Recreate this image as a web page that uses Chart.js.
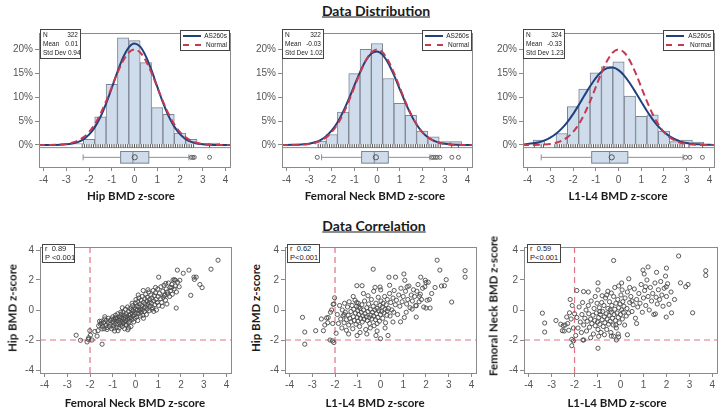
<!DOCTYPE html>
<html>
<head>
<meta charset="utf-8">
<script src="https://cdn.jsdelivr.net/npm/chart.js@4.4.0/dist/chart.umd.min.js"></script>
<style>
body{margin:0;background:#fff;width:726px;height:412px;position:relative;overflow:hidden;font-family:"Liberation Sans",Arial,sans-serif}
canvas{position:absolute}
.t{position:absolute;font-family:Lato,"Open Sans",sans-serif;font-weight:bold;color:#1a1a1a;white-space:nowrap;transform:translate(-50%,-50%)}
.head{font-size:14px;text-decoration:underline}
.ax{font-size:11.5px}
.rot{transform:translate(-50%,-50%) rotate(-90deg)}
.stat{position:absolute;box-sizing:border-box;border:1px solid #444;background:#fff;font-size:6.5px;line-height:8.8px;color:#222;padding:1px 2px;white-space:nowrap}
.stat div{display:flex;justify-content:space-between}
.leg{position:absolute;box-sizing:border-box;border:1px solid #444;background:#fff;font-size:6.5px;line-height:8.5px;color:#222;padding:1px 2px;white-space:nowrap}
.leg div{display:flex;justify-content:space-between;align-items:center}
.leg i{display:inline-block;width:18px;height:0}
.solid{border-top:2px solid #20407e}
.dash{border-top:2px dashed #c43a50}
.corr{position:absolute;box-sizing:border-box;border:1px solid #444;background:#fff;font-size:7.5px;line-height:8.5px;color:#222;padding:0 2px;white-space:nowrap}
</style>
</head>
<body>

<div class="t head" style="left:376px;top:10px">Data Distribution</div>
<div class="t head" style="left:374px;top:225px">Data Correlation</div>

<canvas id="h1"></canvas>
<canvas id="h2"></canvas>
<canvas id="h3"></canvas>
<canvas id="s1"></canvas>
<canvas id="s2"></canvas>
<canvas id="s3"></canvas>

<!-- stat boxes, histograms -->
<div class="stat" style="left:40px;top:29px;width:41px"><div><span>N</span><span>322</span></div><div><span>Mean</span><span>0.01</span></div><div><span>Std Dev</span><span>&nbsp;0.94</span></div></div>
<div class="stat" style="left:282px;top:29px;width:42px"><div><span>N</span><span>322</span></div><div><span>Mean</span><span>-0.03</span></div><div><span>Std Dev</span><span>&nbsp;1.02</span></div></div>
<div class="stat" style="left:523px;top:29px;width:42px"><div><span>N</span><span>324</span></div><div><span>Mean</span><span>-0.33</span></div><div><span>Std Dev</span><span>&nbsp;1.23</span></div></div>

<div class="leg" style="left:180px;top:30px;width:50px"><div><i class="solid"></i><span>AS260s</span></div><div><i class="dash"></i><span>Normal</span></div></div>
<div class="leg" style="left:422px;top:30px;width:50px"><div><i class="solid"></i><span>AS260s</span></div><div><i class="dash"></i><span>Normal</span></div></div>
<div class="leg" style="left:663px;top:30px;width:51px"><div><i class="solid"></i><span>AS260s</span></div><div><i class="dash"></i><span>Normal</span></div></div>

<div class="corr" style="left:42px;top:244px;width:33px">r&nbsp; 0.89<br>P &lt;0.001</div>
<div class="corr" style="left:287px;top:244px;width:33px">r&nbsp; 0.62<br>P&lt;0.001</div>
<div class="corr" style="left:527px;top:244px;width:34px">r&nbsp; 0.59<br>P&lt;0.001</div>

<!-- axis titles -->
<div class="t ax" style="left:131px;top:195px">Hip BMD z-score</div>
<div class="t ax" style="left:375px;top:195px">Femoral Neck BMD z-score</div>
<div class="t ax" style="left:618px;top:195px">L1-L4 BMD z-score</div>
<div class="t ax" style="left:135px;top:402px">Femoral Neck BMD z-score</div>
<div class="t ax" style="left:375px;top:402px">L1-L4 BMD z-score</div>
<div class="t ax" style="left:617px;top:402px">L1-L4 BMD z-score</div>
<div class="t ax rot" style="left:12px;top:308px">Hip BMD z-score</div>
<div class="t ax rot" style="left:255px;top:308px">Hip BMD z-score</div>
<div class="t ax rot" style="left:493px;top:306px">Femoral Neck BMD z-score</div>

<script>
// --- ticks ---
const zTicks = [-4, -3, -2, -1, 0, 1, 2, 3, 4];
const pctTicks = [0, 5, 10, 15, 20];
const scatterYTicks = [-4, -2, 0, 2, 4];

// --- histogram bins (0.5 wide), percent ---
const binMid = [-3.5, -3, -2.5, -2, -1.5, -1, -0.5, 0, 0.5, 1, 1.5, 2, 2.5, 3, 3.5];
const hipPct = [null, null, 0.3, 1.2, 5.9, 12.7, 22.4, 21.8, 17.2, 7.8, 6.4, 2.5, 1.2, 0.3, 0.4];
const fnPct  = [null, null, 0.8, 2.2, 6.9, 14.9, 20.0, 21.2, 13.9, 8.7, 6.2, 2.9, 1.7, 0.7, 0.7];
const l14Pct = [1.0, null, 2.4, 8.0, 11.7, 15.1, 16.4, 17.4, 10.2, 6.0, 6.3, 2.9, 0.7, 1.0, 0.6];

// --- density curves ---
const curveX = [-4.25, -4, -3.75, -3.5, -3.25, -3, -2.75, -2.5, -2.25, -2, -1.75, -1.5, -1.25, -1, -0.75, -0.5, -0.25,
  0, 0.25, 0.5, 0.75, 1, 1.25, 1.5, 1.75, 2, 2.25, 2.5, 2.75, 3, 3.25, 3.5, 3.75, 4, 4.25];
const normalPct = [0, 0.01, 0.02, 0.04, 0.10, 0.22, 0.45, 0.88, 1.59, 2.70, 4.31, 6.48, 9.13, 12.10, 15.06, 17.60, 19.33,
  19.95, 19.33, 17.60, 15.06, 12.10, 9.13, 6.48, 4.31, 2.70, 1.59, 0.88, 0.45, 0.22, 0.10, 0.04, 0.02, 0.01, 0];
const hipFit = [0, 0, 0.01, 0.02, 0.05, 0.13, 0.29, 0.60, 1.18, 2.16, 3.68, 5.84, 8.65, 11.91, 15.30, 18.31, 20.42,
  21.22, 20.54, 18.52, 15.57, 12.18, 8.89, 6.04, 3.83, 2.26, 1.24, 0.64, 0.30, 0.13, 0.06, 0.02, 0.01, 0, 0];
const fnFit = [0, 0.01, 0.03, 0.06, 0.13, 0.28, 0.56, 1.04, 1.83, 3.03, 4.72, 6.93, 9.57, 12.44, 15.24, 17.59, 19.11,
  19.55, 18.83, 17.08, 14.59, 11.74, 8.90, 6.35, 4.27, 2.70, 1.61, 0.90, 0.48, 0.24, 0.11, 0.05, 0.02, 0.01, 0];
const l14Fit = [0.10, 0.19, 0.34, 0.59, 0.97, 1.54, 2.34, 3.42, 4.80, 6.45, 8.33, 10.32, 12.26, 13.98, 15.30, 16.06, 16.18,
  15.64, 14.51, 12.91, 11.03, 9.04, 7.10, 5.36, 3.88, 2.70, 1.80, 1.15, 0.71, 0.42, 0.23, 0.13, 0.07, 0.03, 0.01];

// --- box plots: [low whisker, Q1, median, Q3, high whisker] ---
const hipBox = [-2.26, -0.61, -0.07, 0.63, 2.39];
const hipMean = 0.01;
const hipOut = [2.5, 2.57, 2.63, 3.3];
const fnBox = [-2.45, -0.68, -0.12, 0.50, 2.34];
const fnMean = -0.05;
const fnOut = [-2.64, 2.42, 2.5, 2.58, 2.66, 2.78, 3.31, 3.6];
const l14Box = [-3.4, -1.18, -0.39, 0.41, 2.84];
const l14Mean = -0.3;
const l14Out = [2.95, 3.14, 3.69];

// --- rug (observed values) ---
const hipRug = [-2.3, -2.2, -2.1, -2.0, -1.9, -1.8, -1.7, -1.6, -1.5, -1.4, -1.3, -1.2, -1.1, -1.0, -0.9, -0.8, -0.7, -0.6,
  -0.5, -0.4, -0.3, -0.2, -0.1, 0.0, 0.1, 0.2, 0.3, 0.4, 0.5, 0.6, 0.7, 0.8, 0.9, 1.0, 1.1, 1.2, 1.3, 1.4, 1.5, 1.6, 1.7,
  1.8, 1.9, 2.0, 2.1, 2.2, 2.3, 2.4, 2.5, 2.6, 3.3];
const fnRug = [-2.6, -2.5, -2.4, -2.3, -2.2, -2.1, -2.0, -1.9, -1.8, -1.7, -1.6, -1.5, -1.4, -1.3, -1.2, -1.1, -1.0, -0.9,
  -0.8, -0.7, -0.6, -0.5, -0.4, -0.3, -0.2, -0.1, 0.0, 0.1, 0.2, 0.3, 0.4, 0.5, 0.6, 0.7, 0.8, 0.9, 1.0, 1.1, 1.2, 1.3,
  1.4, 1.5, 1.6, 1.7, 1.8, 1.9, 2.0, 2.1, 2.2, 2.3, 2.4, 2.5, 2.6, 2.7, 2.8, 3.3, 3.6];
const l14Rug = [-3.7, -3.4, -3.3, -2.8, -2.7, -2.6, -2.5, -2.4, -2.3, -2.2, -2.1, -2.0, -1.9, -1.8, -1.7, -1.6, -1.5, -1.4,
  -1.3, -1.2, -1.1, -1.0, -0.9, -0.8, -0.7, -0.6, -0.5, -0.4, -0.3, -0.2, -0.1, 0.0, 0.1, 0.2, 0.3, 0.4, 0.5, 0.6, 0.7,
  0.8, 0.9, 1.0, 1.1, 1.2, 1.3, 1.4, 1.5, 1.6, 1.7, 1.8, 1.9, 2.0, 2.1, 2.2, 2.3, 2.4, 2.5, 2.6, 2.7, 2.8, 2.9, 3.1, 3.7];

// --- scatter 1: Femoral Neck (x) vs Hip (y) ---
const fnHip = [
  [3.63,3.32],[3.32,2.72],[1.84,2.66],[2.35,2.66],[2.10,2.45],[1.02,2.19],[1.71,2.02],[1.76,1.98],[2.57,2.19],[2.67,2.19],
  [2.59,2.04],[2.83,1.70],[2.93,1.49],[2.43,0.98],[1.79,0.13],[1.92,1.55],[1.95,1.98],[1.33,1.77],[1.59,1.49],[1.41,1.06],
  [1.27,0.96],[0.80,-0.09],[0.34,1.30],[-2.61,-1.68],[-2.42,-2.02],[-2.13,-2.13],[-2.08,-1.96],[-1.98,-1.68],[-2.01,-1.38],
  [-2.06,-1.85],[-1.91,-2.0],[-1.69,-1.74],[-1.47,-2.28],[-1.79,-1.43],[-1.65,-1.38],[-1.50,-0.89],[-1.47,-1.26],
  [-1.25,-1.17],[-0.89,-0.53],[-0.77,-1.38],[-0.34,-1.32],
  [-1.55,-0.95],[-1.5,-0.75],[-1.45,-1.1],[-1.4,-0.85],[-1.38,-1.25],[-1.35,-0.6],[-1.3,-1.0],[-1.28,-0.7],[-1.25,-1.3],
  [-1.2,-0.85],[-1.2,-0.55],[-1.15,-1.1],[-1.12,-0.7],[-1.1,-0.95],[-1.05,-0.6],[-1.05,-1.25],[-1.0,-0.8],[-1.0,-0.45],
  [-0.98,-1.05],[-0.95,-0.65],[-0.92,-1.4],[-0.9,-0.9],[-0.88,-0.35],[-0.85,-0.75],[-0.82,-1.15],[-0.8,-0.55],[-0.8,-0.95],
  [-0.78,-0.25],[-0.75,-0.7],[-0.72,-1.2],[-0.7,-0.45],[-0.7,-0.85],[-0.68,-0.6],[-0.65,-1.0],[-0.62,-0.3],[-0.6,-0.75],
  [-0.6,-0.5],[-0.58,-1.1],[-0.55,-0.15],[-0.55,-0.9],[-0.52,-0.6],[-0.5,-0.35],[-0.5,-0.8],[-0.48,-1.25],[-0.45,-0.5],
  [-0.45,0.05],[-0.42,-0.7],[-0.4,-0.25],[-0.4,-1.0],[-0.38,-0.45],[-0.35,-0.6],[-0.35,0.2],[-0.32,-0.85],[-0.3,-0.35],
  [-0.3,-0.1],[-0.28,-0.55],[-0.25,-0.75],[-0.25,0.1],[-0.22,-0.3],[-0.2,-0.5],[-0.2,-1.1],[-0.18,0.0],[-0.15,-0.2],
  [-0.15,-0.65],[-0.12,0.3],[-0.1,-0.4],[-0.1,-0.05],[-0.08,-0.8],[-0.05,0.15],[-0.05,-0.3],[-0.02,-0.55],[0.0,0.05],
  [0.0,0.45],[0.02,-0.2],[0.05,-0.45],[0.05,0.25],[0.08,0.0],[0.1,-0.7],[0.1,0.55],[0.12,-0.25],[0.15,0.2],[0.15,0.8],
  [0.18,-0.05],[0.2,0.4],[0.2,-0.4],[0.22,0.05],[0.25,0.65],[0.25,-0.15],[0.28,0.3],[0.3,0.0],[0.3,0.9],[0.32,-0.35],
  [0.35,0.5],[0.38,0.15],[0.4,0.75],[0.4,-0.1],[0.42,0.4],[0.45,1.05],[0.45,0.2],[0.48,-0.3],[0.5,0.6],[0.5,0.05],
  [0.52,0.85],[0.55,0.35],[0.58,1.2],[0.6,0.5],[0.6,-0.05],[0.62,0.7],[0.65,0.25],[0.68,1.0],[0.7,0.45],[0.72,0.8],
  [0.75,0.15],[0.78,1.3],[0.8,0.6],[0.82,0.95],[0.85,0.35],[0.88,1.15],[0.9,0.7],[0.92,0.0],[0.95,0.5],[0.98,1.4],
  [1.0,0.9],[1.02,0.3],[1.05,1.1],[1.1,0.75],[1.12,1.55],[1.15,0.5],[1.2,1.25],[1.22,0.85],[1.25,1.65],[1.3,1.0],
  [1.32,0.65],[1.35,1.4],[1.4,1.2],[1.45,1.8],[1.5,0.9],[1.52,1.5],[1.55,1.3],[1.6,1.7],[1.62,1.05],[1.65,2.0],[1.7,1.4],
  [1.75,1.6],[1.8,1.2],[1.85,1.85],[-0.95,-1.2],[-0.65,-0.15],[-0.3,-1.2],[0.35,-0.55],[-1.35,-0.45],[-0.88,-0.55],
  [-0.42,-0.95],[0.02,0.7],[0.72,0.05],[1.18,0.25],[-0.15,0.45],[0.55,1.35],[-1.62,-1.05],[-1.58,-0.75],[-0.58,0.15],
  [0.88,1.5],[1.38,0.4],[0.12,1.0]
];

// --- scatter 2: L1-L4 (x) vs Hip (y) ---
const l14Hip = [
  [-3.43,-0.49],[-3.33,-1.47],[-3.33,-2.28],[-2.85,-1.38],[-2.51,-1.38],[-2.32,-0.85],[-2.37,-0.53],[-2.15,0.0],
  [-2.22,-2.0],[-2.11,-2.06],[-2.05,-2.17],[-2.02,0.81],[-2.08,0.38],[-0.32,2.72],[-1.04,1.62],[-0.81,1.62],[-0.24,1.51],
  [-0.02,1.53],[0.01,1.34],[0.0,-1.91],[-0.2,-1.70],[-1.03,-1.70],[0.33,-1.70],[0.37,2.19],[0.66,2.19],[1.03,2.40],
  [1.07,1.98],[1.17,1.55],[1.77,2.19],[1.97,1.98],[2.0,1.83],[2.49,3.32],[2.61,2.66],[2.68,1.60],[2.81,1.62],[2.89,2.02],
  [3.13,0.53],[3.72,2.62],[3.72,2.19],[1.57,-0.47],[0.88,-0.79],[1.13,-0.15],[2.0,0.13],[2.18,0.13],[1.71,0.91],
  [2.15,0.70],[1.57,0.28],[1.39,0.06],
  [-1.9,-0.3],[-1.85,-0.9],[-1.8,0.3],[-1.75,-0.6],[-1.7,-1.2],[-1.68,0.0],[-1.65,-0.4],[-1.6,-0.85],[-1.58,0.45],
  [-1.55,-0.15],[-1.5,-0.65],[-1.5,-1.35],[-1.45,0.2],[-1.42,-0.35],[-1.4,-1.0],[-1.38,0.55],[-1.35,-0.55],[-1.3,-0.1],
  [-1.3,-0.8],[-1.25,0.3],[-1.22,-1.25],[-1.2,-0.45],[-1.18,0.05],[-1.15,-0.7],[-1.12,0.65],[-1.1,-0.2],[-1.08,-0.95],
  [-1.05,0.25],[-1.02,-0.5],[-1.0,-0.05],[-1.0,-0.75],[-0.98,0.45],[-0.95,-0.3],[-0.92,-1.1],[-0.9,0.1],[-0.88,-0.55],
  [-0.85,-0.15],[-0.82,0.35],[-0.8,-0.8],[-0.78,-0.4],[-0.75,0.0],[-0.72,-0.6],[-0.7,0.6],[-0.68,-0.25],[-0.65,-1.3],
  [-0.62,-0.45],[-0.6,0.15],[-0.58,-0.7],[-0.55,-0.1],[-0.52,0.4],[-0.5,-0.5],[-0.48,-0.9],[-0.45,0.05],[-0.42,-0.35],
  [-0.4,0.7],[-0.38,-0.6],[-0.35,-0.15],[-0.32,0.25],[-0.3,-0.4],[-0.28,-1.05],[-0.25,0.0],[-0.22,-0.65],[-0.2,0.45],
  [-0.18,-0.25],[-0.15,0.1],[-0.12,-0.5],[-0.1,0.85],[-0.08,-0.05],[-0.05,-0.75],[-0.02,0.3],[0.0,-0.3],[0.02,0.6],
  [0.05,-0.1],[0.08,0.2],[0.1,-0.55],[0.12,0.45],[0.15,-0.2],[0.18,0.9],[0.2,0.05],[0.22,-0.85],[0.25,0.35],[0.28,-0.35],
  [0.3,0.7],[0.35,0.1],[0.4,1.1],[0.42,-0.4],[0.45,0.5],[0.5,0.0],[0.55,0.8],[0.58,-0.15],[0.6,1.3],[0.65,0.35],
  [0.7,0.65],[0.75,-0.3],[0.8,1.0],[0.85,0.25],[0.9,1.45],[0.95,0.55],[1.0,0.9],[1.05,-0.5],[1.1,1.25],[1.15,0.4],
  [1.2,0.7],[1.25,1.6],[1.3,0.15],[1.35,1.0],[1.4,0.6],[1.45,1.35],[1.5,0.9],[1.55,0.3],[1.6,1.25],[1.65,1.7],[1.7,0.55],
  [1.75,1.05],[1.8,0.7],[1.85,1.45],[1.9,0.2],[1.95,1.55],[2.05,0.65],[2.1,1.85],[2.25,1.1],[2.4,1.5],[-2.3,-0.5],
  [-2.2,-0.15],[-2.1,-0.9],[-2.05,0.4],[-2.45,-1.0],[-2.6,-0.6],[-1.95,-1.55],[-1.4,-1.6],[-0.9,-1.5],[-0.6,-1.6],
  [-0.15,-1.4],[0.2,-1.2],[0.55,-0.8],[-1.2,0.9],[-0.75,1.1],[-0.3,1.25],[0.4,1.65],[-0.55,0.95],[-1.05,0.5],[-0.15,-0.9],
  [-0.45,-1.2],[-1.6,-0.3],[0.3,-0.05],[-0.95,0.2]
];

// --- scatter 3: L1-L4 (x) vs Femoral Neck (y) ---
const l14Fn = [
  [-3.40,-0.21],[-3.30,-0.87],[-3.30,-1.47],[-2.81,-0.70],[-2.53,-1.38],[-2.49,-1.04],[-2.41,-1.0],[-2.34,-0.47],
  [-2.22,-0.19],[-2.12,-1.96],[-2.12,-2.38],[-2.05,-2.06],[-2.19,0.70],[-1.90,1.30],[-1.61,1.23],[-0.98,1.81],[-0.98,1.34],
  [-0.30,3.30],[-0.98,-2.55],[-1.64,-2.0],[-0.18,-2.0],[-0.08,-1.79],[-0.40,-1.74],[-0.40,1.13],[-0.08,1.60],[0.07,1.34],
  [0.98,2.66],[1.20,2.87],[1.03,2.40],[1.57,2.51],[2.0,2.79],[1.96,2.26],[1.99,1.55],[2.53,3.60],[2.61,1.81],[2.84,1.55],
  [2.94,1.70],[3.71,2.62],[3.71,2.30],[3.14,-0.19],[2.22,-0.19],[1.99,-0.47],[2.11,0.38],[1.52,-0.26],[1.09,1.55],
  [0.36,2.08],[0.50,0.60],
  [-1.9,-0.5],[-1.85,-1.2],[-1.8,0.2],[-1.75,-0.8],[-1.7,-1.5],[-1.68,-0.3],[-1.65,0.5],[-1.6,-1.0],[-1.55,-0.55],
  [-1.5,0.0],[-1.48,-1.4],[-1.45,-0.75],[-1.4,0.3],[-1.38,-0.25],[-1.35,-1.15],[-1.3,-0.6],[-1.28,0.6],[-1.25,-0.9],
  [-1.2,-0.35],[-1.18,-1.6],[-1.15,0.1],[-1.12,-0.7],[-1.1,-1.05],[-1.05,-0.2],[-1.02,0.45],[-1.0,-0.8],[-0.98,-1.3],
  [-0.95,-0.5],[-0.92,0.15],[-0.9,-0.95],[-0.88,-0.3],[-0.85,-1.5],[-0.82,0.5],[-0.8,-0.65],[-0.78,-0.1],[-0.75,-1.1],
  [-0.72,0.3],[-0.7,-0.45],[-0.68,-0.85],[-0.65,0.8],[-0.62,-0.25],[-0.6,-1.3],[-0.58,-0.6],[-0.55,0.1],[-0.52,-0.95],
  [-0.5,-0.35],[-0.48,0.55],[-0.45,-0.75],[-0.42,-1.5],[-0.4,-0.15],[-0.38,0.3],[-0.35,-0.55],[-0.32,-1.0],[-0.3,0.9],
  [-0.28,-0.3],[-0.25,0.05],[-0.22,-0.7],[-0.2,0.45],[-0.18,-1.2],[-0.15,-0.2],[-0.12,0.7],[-0.1,-0.5],[-0.08,0.15],
  [-0.05,-0.85],[-0.02,0.4],[0.0,-0.3],[0.02,1.0],[0.05,0.0],[0.08,-0.6],[0.1,0.55],[0.12,-0.15],[0.15,0.25],[0.18,-1.0],
  [0.2,0.8],[0.25,-0.4],[0.28,0.1],[0.3,1.2],[0.35,-0.2],[0.4,0.5],[0.45,0.9],[0.5,-0.1],[0.55,0.35],[0.6,1.4],
  [0.65,-0.55],[0.7,0.7],[0.75,0.2],[0.8,1.1],[0.85,0.45],[0.9,1.7],[0.95,-0.15],[1.0,0.8],[1.05,1.3],[1.1,0.3],[1.15,2.0],
  [1.2,0.9],[1.25,0.0],[1.3,1.5],[1.35,0.6],[1.4,1.1],[1.45,-0.3],[1.5,1.8],[1.55,0.85],[1.6,0.4],[1.65,1.35],[1.7,0.7],
  [1.75,1.9],[1.8,1.0],[1.85,0.25],[1.9,1.45],[2.0,0.9],[2.05,1.75],[2.2,1.2],[2.35,0.7],[-2.3,-0.9],[-2.25,-1.35],
  [-2.15,-0.6],[-2.1,0.3],[-2.05,-1.2],[-2.0,-0.25],[-2.45,-1.4],[-2.6,-0.95],[-1.95,-1.7],[-1.6,-2.0],[-1.3,-1.85],
  [-0.95,-1.75],[-0.7,-1.65],[-0.3,-1.75],[-0.1,-1.6],[0.3,-1.65],[-1.1,0.9],[-0.55,1.25],[-0.25,1.5],[0.05,1.8],
  [-1.4,1.2],[-0.8,0.95],[0.4,1.5],[0.7,-0.9],[-0.6,1.0],[-0.2,-1.0],[-0.45,0.0],[-0.9,-0.1]
];

// --- 2. helpers ---
const Z_MIN = -4.2, Z_MAX = 4.2;
const P_MIN = -4.6, P_MAX = 23.4;   // hist y range, lower part holds the box plot
const SEP_Y = -0.55, RUG_Y = -0.2;
const BOX_TOP = -1.36, BOX_BOT = -3.8, BOX_MID = -2.58;
const REF = -2;
const TICK_FONT = { family: 'Liberation Sans', size: 10 };

function pairs(xs, ys) { return xs.map((x, i) => ({ x: x, y: ys[i] })); }

function axis(min, max, ticks, size, pad, fmt) {
  return {
    type: 'linear', min: min, max: max, offset: false,
    afterBuildTicks: s => { s.ticks = ticks.map(v => ({ value: v })); },
    afterFit: s => { if (s.isHorizontal()) s.height = size; else s.width = size; },
    grid: { drawOnChartArea: false, offset: false, tickLength: 4, color: '#8a8a8a', tickColor: '#8a8a8a' },
    border: { display: false },
    ticks: { font: TICK_FONT, color: '#555', padding: pad, autoSkip: false, maxRotation: 0, callback: fmt || (v => v) }
  };
}

// frame + separator + box plot
const deco = {
  id: 'deco',
  beforeDatasetsDraw(chart, args, o) {
    if (!o.box) return;
    const { ctx, scales: { x, y } } = chart;
    const [lo, q1, med, q3, hi] = o.box;
    const yt = y.getPixelForValue(BOX_TOP), yb = y.getPixelForValue(BOX_BOT), ym = y.getPixelForValue(BOX_MID);
    ctx.save();
    ctx.strokeStyle = '#8a8f99'; ctx.lineWidth = 1;
    ctx.beginPath();
    ctx.moveTo(x.getPixelForValue(lo), ym); ctx.lineTo(x.getPixelForValue(q1), ym);
    ctx.moveTo(x.getPixelForValue(q3), ym); ctx.lineTo(x.getPixelForValue(hi), ym);
    ctx.moveTo(x.getPixelForValue(lo), ym - 3); ctx.lineTo(x.getPixelForValue(lo), ym + 3);
    ctx.moveTo(x.getPixelForValue(hi), ym - 3); ctx.lineTo(x.getPixelForValue(hi), ym + 3);
    ctx.stroke();
    ctx.fillStyle = '#cfdcec';
    const bx = x.getPixelForValue(q1), bw = x.getPixelForValue(q3) - bx;
    ctx.fillRect(bx, yt, bw, yb - yt);
    ctx.strokeStyle = '#7d8590';
    ctx.strokeRect(bx, yt, bw, yb - yt);
    ctx.beginPath();
    ctx.moveTo(x.getPixelForValue(med), yt); ctx.lineTo(x.getPixelForValue(med), yb);
    ctx.stroke();
    ctx.beginPath();
    ctx.arc(x.getPixelForValue(o.mean), ym, 2.6, 0, Math.PI * 2);
    ctx.strokeStyle = '#555'; ctx.stroke();
    // separator between histogram and box plot
    ctx.strokeStyle = '#8a8a8a';
    ctx.beginPath();
    ctx.moveTo(chart.chartArea.left, y.getPixelForValue(SEP_Y));
    ctx.lineTo(chart.chartArea.right, y.getPixelForValue(SEP_Y));
    ctx.stroke();
    ctx.restore();
  },
  afterDraw(chart) {
    const { ctx, chartArea: a } = chart;
    ctx.save();
    ctx.strokeStyle = '#8a8a8a'; ctx.lineWidth = 1;
    ctx.strokeRect(Math.round(a.left) + 0.5, Math.round(a.top) + 0.5, Math.round(a.right - a.left), Math.round(a.bottom - a.top));
    ctx.restore();
  }
};

function place(cv, area, yw, xh, pt, pr) {
  cv.width = yw + (area.R - area.L) + pr;
  cv.height = pt + (area.B - area.T) + xh;
  cv.style.left = (area.L - yw) + 'px';
  cv.style.top = (area.T - pt) + 'px';
}

function histChart(id, area, bars, fit, box, mean, outl, rug) {
  const cv = document.getElementById(id);
  place(cv, area, 39, 24, 4, 6);
  new Chart(cv, {
    type: 'bar',
    data: {
      datasets: [
        { type: 'line', data: pairs(curveX, normalPct), borderColor: '#c43a50', borderWidth: 2, borderDash: [7, 4],
          pointRadius: 0, cubicInterpolationMode: 'monotone', order: 0 },
        { type: 'line', data: pairs(curveX, fit), borderColor: '#20407e', borderWidth: 2,
          pointRadius: 0, cubicInterpolationMode: 'monotone', order: 1 },
        { type: 'scatter', data: outl.map(v => ({ x: v, y: BOX_MID })), pointRadius: 2, pointBorderColor: '#666',
          pointBackgroundColor: 'rgba(0,0,0,0)', pointBorderWidth: 1, order: 2 },
        { type: 'scatter', data: rug.map(v => ({ x: v, y: RUG_Y })), pointStyle: 'line', pointRotation: 90,
          pointRadius: 1.8, pointBorderColor: '#555', pointBorderWidth: 1, order: 3 },
        { type: 'bar', data: pairs(binMid, bars), backgroundColor: '#cfdcec', borderColor: '#7d8590', borderWidth: 1,
          barPercentage: 1, categoryPercentage: 1, order: 5 }
      ]
    },
    options: {
      responsive: false, animation: false, events: [],
      layout: { padding: { top: 4, right: 6, left: 0, bottom: 0 } },
      plugins: { legend: { display: false }, tooltip: { enabled: false }, deco: { box: box, mean: mean } },
      scales: {
        x: axis(Z_MIN, Z_MAX, zTicks, 24, 3),
        y: axis(P_MIN, P_MAX, pctTicks, 39, 2, v => v + '%')
      }
    },
    plugins: [deco]
  });
}

function scatterChart(id, area, pts) {
  const cv = document.getElementById(id);
  place(cv, area, 22, 24, 3, 6);
  new Chart(cv, {
    type: 'scatter',
    data: {
      datasets: [
        { data: pts.map(p => ({ x: p[0], y: p[1] })), pointRadius: 2.1, pointBorderColor: '#4a4a4a',
          pointBackgroundColor: 'rgba(0,0,0,0)', pointBorderWidth: 0.9, order: 0 },
        { type: 'line', data: [{ x: REF, y: Z_MIN }, { x: REF, y: Z_MAX }], borderColor: '#e27382', borderWidth: 1.2,
          borderDash: [6, 4], pointRadius: 0, order: 1 },
        { type: 'line', data: [{ x: Z_MIN, y: REF }, { x: Z_MAX, y: REF }], borderColor: '#e27382', borderWidth: 1.2,
          borderDash: [6, 4], pointRadius: 0, order: 1 }
      ]
    },
    options: {
      responsive: false, animation: false, events: [],
      layout: { padding: { top: 3, right: 6, left: 0, bottom: 0 } },
      plugins: { legend: { display: false }, tooltip: { enabled: false } },
      scales: {
        x: axis(Z_MIN, Z_MAX, zTicks, 24, 2),
        y: axis(Z_MIN, Z_MAX, scatterYTicks, 22, 2)
      }
    },
    plugins: [deco]
  });
}

// --- 3. draw ---
histChart('h1', { L: 39, R: 230, T: 29, B: 167 }, hipPct, hipFit, hipBox, hipMean, hipOut, hipRug);
histChart('h2', { L: 282, R: 472, T: 29, B: 167 }, fnPct, fnFit, fnBox, fnMean, fnOut, fnRug);
histChart('h3', { L: 523, R: 714, T: 29, B: 167 }, l14Pct, l14Fit, l14Box, l14Mean, l14Out, l14Rug);
scatterChart('s1', { L: 40, R: 231, T: 242, B: 373 }, fnHip);
scatterChart('s2', { L: 285, R: 476, T: 242, B: 373 }, l14Hip);
scatterChart('s3', { L: 524, R: 717, T: 242, B: 373 }, l14Fn);
</script>
</body>
</html>
